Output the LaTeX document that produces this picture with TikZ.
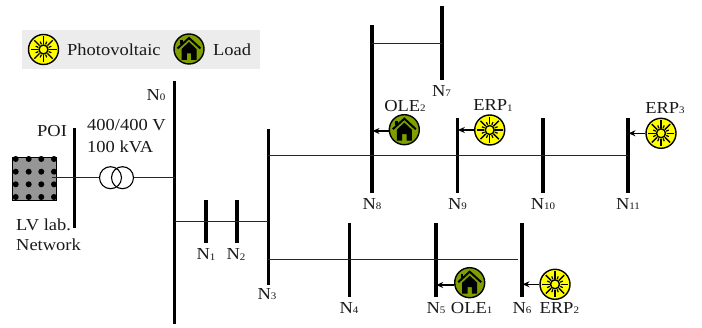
\documentclass[tikz,border=0pt]{standalone}
\usepackage{fontspec}
\setmainfont[FakeStretch=1.1]{Liberation Serif}
\usetikzlibrary{arrows.meta}
\definecolor{legbg}{HTML}{ECECEC}
\definecolor{olive}{HTML}{7F9F00}
\definecolor{sunny}{HTML}{FFFF00}
\definecolor{gridgray}{HTML}{969696}
\newcommand{\dg}[1]{\raisebox{-0.05em}{\fontsize{10}{10}\selectfont #1}}
\tikzset{
  x=1pt,y=-1pt,
  bus/.style={fill=black,draw=none,inner sep=0pt,minimum width=3.6pt,rectangle},
  wire/.style={draw=black!85,line width=1.3pt},
  feed/.style={draw=black,line width=1.2pt,-{Stealth[length=7pt,width=6pt]},shorten >=0.5pt},
  lab/.style={inner sep=0pt,font=\fontsize{16.8}{18}\selectfont,text=black!90},
  pvdisc/.style={circle,draw=black,line width=1.4pt,fill=sunny,minimum size=30pt,inner sep=0pt},
  loaddisc/.style={circle,draw=black,line width=1.4pt,fill=olive,minimum size=30pt,inner sep=0pt},
  pics/sun/.style={code={
    \foreach \a in {0,45,...,315} \draw[line width=1.4pt] (\a:5.5) -- (\a:13);
    \foreach \a in {22.5,67.5,...,337.5} \draw[line width=1.2pt] (\a:5.5) -- (\a:8.5);
    \draw[line width=1.4pt] (0,0) circle (4.5);
  }},
  pics/house/.style={code={
    \fill[black] (-7.5,0) -- (0,-7) -- (7.5,0) -- (7.5,11) -- (2.2,11) -- (2.2,4.5) -- (-2.2,4.5) -- (-2.2,11) -- (-7.5,11) -- cycle;
    \draw[black,line width=2pt] (-11.5,-0.5) -- (0,-11) -- (11.5,-0.5);
    \fill[black] (-9,-9) rectangle (-6.3,-5);
  }},
}
\newcommand{\pvat}[3]{\node[pvdisc] (#1) at (#2,#3) {}; \pic at (#1) {sun};}
\newcommand{\loadat}[3]{\node[loaddisc] (#1) at (#2,#3) {}; \pic at (#1) {house};}
\newcommand{\busat}[4]{\node[bus,minimum height=#4pt-#3pt,anchor=north] (#1) at (#2,#3) {};}
\begin{document}
\begin{tikzpicture}
\useasboundingbox (0,0) rectangle (702,328);
% legend
\node[fill=legbg,draw=none,minimum width=238pt,minimum height=39pt,inner sep=0pt] (legend) at (141,49.5) {};
\pvat{legpv}{43.5}{49.5}
\loadat{legload}{189}{49}
\node[lab,anchor=west] (legpvt) at (67,49.5) {Photovoltaic};
\node[lab,anchor=west] (legloadt) at (213,49.5) {Load};
% buses
\busat{poi}{74.5}{128}{228}
\busat{n0}{174.5}{81}{324}
\busat{n1}{205.7}{200}{243}
\busat{n2}{237}{200}{243}
\busat{n3}{268.3}{129}{285}
\busat{n4}{349.3}{223}{297}
\busat{n5}{435.7}{223}{297}
\busat{n6}{522}{223}{297}
\busat{n7}{441.7}{6}{80}
\busat{n8}{372}{25}{193}
\busat{n9}{457.3}{118}{193}
\busat{n10}{542.7}{118}{193}
\busat{n11}{628}{118}{193}
% grid
\node[fill=gridgray,draw=black,line width=0.8pt,minimum width=44pt,minimum height=43pt,inner sep=0pt] (grid) at (34.7,178.5) {};
\begin{scope}
\clip (grid.south west) rectangle (grid.north east);
\foreach \x in {15.7,28.7,41.3,54} \foreach \y in {159,171.7,184.3,197}
  \fill[black] (\x,\y) circle (3);
\end{scope}
% transformer
\node[circle,draw=black,line width=1.1pt,minimum size=22pt,inner sep=0pt] (t1) at (110.5,177.7) {};
\node[circle,draw=black,line width=1.1pt,minimum size=22pt,inner sep=0pt] (t2) at (122.5,177.7) {};
% wires
\coordinate (gridend) at (52,177.7);
\draw[wire] (gridend) -- (t1.west);
\draw[wire] (t2.east) -- (n0 |- t2);
\coordinate (y1) at (0,221.3);
\draw[wire] (n0 |- y1) -- (n3 |- y1);
\coordinate (y2) at (0,155.7);
\draw[wire] (n3 |- y2) -- (n11 |- y2);
\coordinate (y3) at (0,259.3);
\coordinate (x3) at (518,0);
\draw[wire] (n3 |- y3) -- (x3 |- y3);
\coordinate (y4) at (0,43.3);
\draw[wire] (n8 |- y4) -- (n7 |- y4);
% sources and loads
\loadat{ole1}{469.7}{282.7}
\pvat{erp2}{555}{284.3}
\loadat{ole2}{404.3}{129.7}
\pvat{erp1}{489.7}{130}
\pvat{erp3}{661}{133.3}
\draw[feed] (ole1.west |- 0,285) -- (n5 |- 0,285);
\draw[feed] (erp2.west) -- (n6 |- erp2);
\draw[feed] (ole2.west |- 0,131) -- (n8 |- 0,131);
\draw[feed] (erp1.west) -- (n9 |- erp1);
\draw[feed] (erp3.west) -- (n11 |- erp3);
% labels
\node[lab] (l0) at (156,95) {N\dg{0}};
\node[lab] (l1) at (206,254.5) {N\dg{1}};
\node[lab] (l2) at (236,254.5) {N\dg{2}};
\node[lab] (l3) at (267,294) {N\dg{3}};
\node[lab] (l4) at (349,308) {N\dg{4}};
\node[lab] (l5) at (436,308) {N\dg{5}};
\node[lab] (l6) at (522,308) {N\dg{6}};
\node[lab] (l7) at (441.5,91) {N\dg{7}};
\node[lab] (l8) at (372,204) {N\dg{8}};
\node[lab] (l9) at (457.5,204) {N\dg{9}};
\node[lab] (l10) at (543,204) {N\dg{10}};
\node[lab] (l11) at (628,204) {N\dg{11}};
\node[lab] (lole1) at (471.7,308) {OLE\dg{1}};
\node[lab] (lerp2) at (559.3,308) {ERP\dg{2}};
\node[lab] (lole2) at (405,106) {OLE\dg{2}};
\node[lab] (lerp1) at (493,105.5) {ERP\dg{1}};
\node[lab] (lerp3) at (665,108) {ERP\dg{3}};
\node[lab,anchor=west] (lpoi) at (37,131) {POI};
\node[lab,anchor=west] (ltr1) at (87,125) {400/400 V};
\node[lab,anchor=west] (ltr2) at (87,147) {100 kVA};
\node[lab,anchor=west] (llv) at (16,225) {LV lab.};
\node[lab,anchor=west] (lnet) at (16,245) {Network};
\end{tikzpicture}
\end{document}
